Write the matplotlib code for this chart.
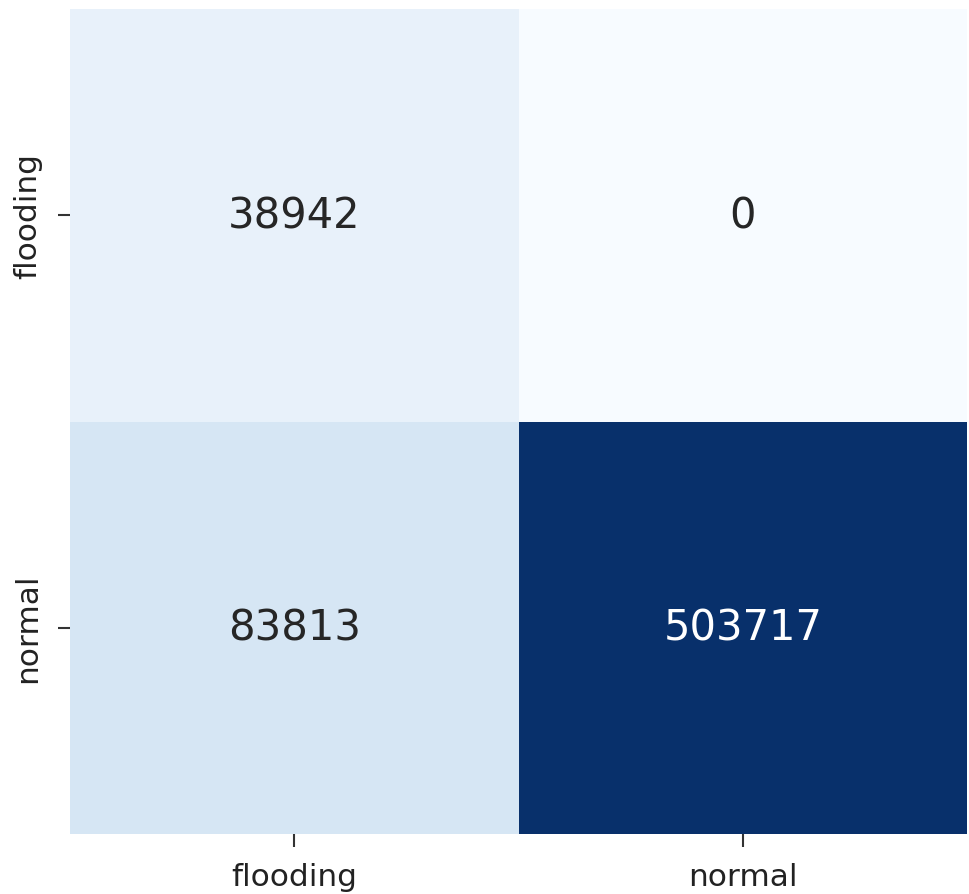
import matplotlib
matplotlib.use("Agg")
import matplotlib.pyplot as plt
import numpy as np
import seaborn as sns

# confusion matrix counts (rows: true, cols: predicted)
labels = ["flooding", "normal"]
row_flooding = [38942, 0]
row_normal = [83813, 503717]

cm = np.array([row_flooding, row_normal])

fig = plt.figure(figsize=(9.69, 8.95), dpi=100)
ax = fig.add_axes([70 / 969, 60 / 895, 897 / 969, 825 / 895])
sns.heatmap(cm, annot=True, fmt="d", cmap="Blues", cbar=False,
            xticklabels=labels, yticklabels=labels, ax=ax,
            annot_kws={"size": 30})
ax.tick_params(axis="both", labelsize=22.5, length=9, width=1.5,
               color="#333333", labelcolor="#222222")
ax.tick_params(axis="x", pad=11)
ax.tick_params(axis="y", pad=11)
plt.setp(ax.get_yticklabels(), rotation=90, va="center")

plt.savefig("out.png", dpi=100)
